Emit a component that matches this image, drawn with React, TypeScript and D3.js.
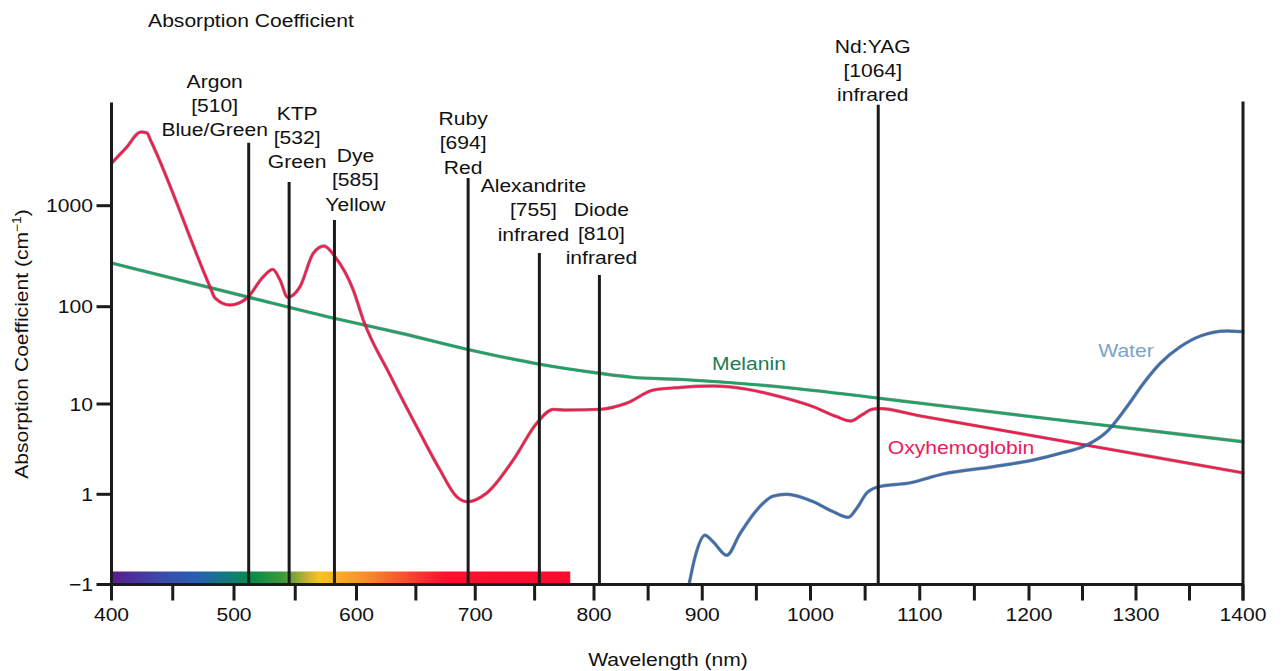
import React from 'react';
import * as d3 from 'd3';

const W = 1283;
const H = 671;

// ---------- data ----------
const xTicks = [400, 450, 500, 550, 600, 650, 700, 750, 800, 850, 900, 950, 1000, 1050, 1100, 1150, 1200, 1250, 1300, 1350, 1400];
const xTickLabels = [400, 500, 600, 700, 800, 900, 1000, 1100, 1200, 1300, 1400];
const yTickValues = [0.1, 1, 10, 100, 1000];
const yTickLabels = ['\u22121', '1', '10', '100', '1000'];

// [wavelength nm, absorption coefficient cm^-1]
const oxyhemoglobin: [number, number][] = [
  [400, 2630], [411.8, 3720], [424, 5370], [429, 5250], [431.8, 4470],
  [480.4, 158], [484.5, 122], [496.7, 104], [510.4, 121], [523.9, 198],
  [531.6, 234], [537.6, 184], [543.8, 124], [553.9, 158], [564.7, 338],
  [573.5, 399], [582.4, 313], [597.4, 146], [605.7, 73], [628.2, 19.9],
  [653.5, 4.77], [670.3, 1.86], [684.4, 0.94], [693.3, 0.827], [709.6, 1.03],
  [732, 2.4], [751.7, 6.11], [765.7, 8.73], [777, 8.57], [804.9, 8.73],
  [830.2, 10.2], [854.8, 13.9], [879.4, 14.8], [910.2, 15.3], [941, 14.2],
  [971.8, 11.9], [1002.6, 9.33], [1024, 7.23], [1036.8, 6.48], [1046.9, 7.55],
  [1056, 8.73], [1062.7, 8.92], [1100, 7.4], [1200, 4.53], [1300, 2.8], [1400, 1.73],
];

const melanin: [number, number][] = [
  [400, 271], [512, 124], [582, 76], [636.6, 53.7], [693.3, 36.5],
  [753.7, 25.7], [804.9, 20.7], [836, 18.8], [879.4, 17.9], [971.8, 15.0],
  [1062, 11.5], [1100, 10.2], [1200, 7.29], [1300, 5.29], [1400, 3.82],
];

const water: [number, number][] = [
  [887.8, 0.1], [893.3, 0.201], [902.5, 0.352], [910.2, 0.296], [922.6, 0.211],
  [934.9, 0.367], [950.3, 0.668], [965.6, 0.957], [978, 1.0], [1002.6, 0.827],
  [1020.9, 0.64], [1034.6, 0.556], [1042.3, 0.7], [1051.4, 1.03], [1062, 1.21],
  [1091.1, 1.34], [1121.6, 1.68], [1167.3, 2.02], [1204, 2.4], [1229, 2.84],
  [1254, 3.51], [1272.7, 4.93], [1291.5, 9.33], [1307, 16.3], [1322.7, 26.2],
  [1341.5, 38.8], [1360.2, 50.0], [1385.2, 56.3], [1400, 55.4],
];

// laser: name, nominal wavelength, band, drawn position (nm), line top (cm^-1)
const laserNames = ['Argon', 'KTP', 'Dye', 'Ruby', 'Alexandrite', 'Diode', 'Nd:YAG'];
const laserNm = [510, 532, 585, 694, 755, 810, 1064];
const laserBand = ['Blue/Green', 'Green', 'Yellow', 'Red', 'infrared', 'infrared', 'infrared'];
const laserDrawnAt = [512, 545, 582, 694, 754, 805, 1062];
const laserTop = [4200, 1720, 720, 1880, 340, 206, 10000];

// visible spectrum bar colour stops (nm, colour)
const spectrumNm = [400, 440, 470, 495, 515, 540, 560, 570, 610, 650, 675, 780];
const spectrumColor = ['#5a1c8e', '#3a4aa8', '#2760b0', '#137a7a', '#0c8a48', '#3d9a3a', '#c9b32e', '#f8c41e', '#f98a2a', '#fb3a30', '#fd0f2e', '#ff0a32'];

// ---------- layout (pixel offsets, not data) ----------
const laserLabelOffset: [number, number][] = [
  [-34, -13], [8, -20], [21, -16], [-5, -11], [-6, -19], [2, -17], [-5.5, -10],
];
const FONT = "'Liberation Sans', Arial, Helvetica, sans-serif";
const SX = 1.14;
const FS = 18.5;

function Txt(props: { x: number; y: number; children: React.ReactNode; anchor?: string; fill?: string; size?: number }) {
  const { x, y, children, anchor = 'middle', fill = '#111', size = FS } = props;
  return (
    <text
      transform={`translate(${x},${y}) scale(${SX},1)`}
      textAnchor={anchor as any}
      fontSize={size}
      fill={fill}
      fontFamily={FONT}
    >
      {children}
    </text>
  );
}

export default function App() {
  const x = d3.scaleLinear().domain([400, 600, 800, 1000, 1200, 1400]).range([111.5, 356.5, 594, 810.5, 1029, 1243]);
  const y = d3.scaleLog().domain([0.1, 1, 10, 100, 1000]).range([584.5, 494.3, 404, 306.7, 205.7]);

  const axisY = y(0.1);
  const axisX = x(400);
  const topY = y(10500);

  const line = d3
    .line<[number, number]>()
    .x((d) => x(d[0]))
    .y((d) => y(d[1]))
    .curve(d3.curveMonotoneX);

  const specX1 = x(spectrumNm[0]);
  const specX2 = x(spectrumNm[spectrumNm.length - 1]);

  const series = [
    { data: melanin, under: '#1c4b3a', core: '#1aa462' },
    { data: oxyhemoglobin, under: '#7a1e30', core: '#f41a4c' },
    { data: water, under: '#1f3557', core: '#3a6db0' },
  ];

  return (
    <svg width={W} height={H} style={{ position: 'absolute', left: 0, top: 0, background: '#fff' }}>
      <defs>
        <linearGradient id="spec" gradientUnits="userSpaceOnUse" x1={specX1} x2={specX2} y1={0} y2={0}>
          {spectrumNm.map((nm, i) => (
            <stop key={nm} offset={(x(nm) - specX1) / (specX2 - specX1)} stopColor={spectrumColor[i]} />
          ))}
        </linearGradient>
      </defs>
      <rect x={0} y={0} width={W} height={H} fill="#fff" />

      {/* spectrum bar */}
      <rect x={specX1} y={axisY - 13} width={specX2 - specX1} height={13} fill="url(#spec)" />

      {/* curves */}
      {series.map((s, i) => (
        <g key={i} fill="none" strokeLinejoin="round" strokeLinecap="round">
          <path d={line(s.data) || ''} stroke={s.under} strokeWidth={3.4} strokeOpacity={0.6} />
          <path d={line(s.data) || ''} stroke={s.core} strokeWidth={2.1} />
        </g>
      ))}

      {/* laser lines and labels */}
      {laserNames.map((name, i) => {
        const lx = x(laserDrawnAt[i]);
        const ly = y(laserTop[i]);
        const [dx, dy] = laserLabelOffset[i];
        const lastBase = ly + dy + 6.5;
        const lines = [name, `[${laserNm[i]}]`, laserBand[i]];
        return (
          <g key={name}>
            <line x1={lx} x2={lx} y1={ly} y2={axisY} stroke="#1b1b1b" strokeWidth={3} />
            {lines.map((t, j) => (
              <Txt key={j} x={lx + dx} y={lastBase - (2 - j) * 24.3}>
                {t}
              </Txt>
            ))}
          </g>
        );
      })}

      {/* axes */}
      <line x1={axisX} x2={axisX} y1={topY} y2={axisY + 6} stroke="#1b1b1b" strokeWidth={3} />
      <line x1={x(1400)} x2={x(1400)} y1={topY - 1} y2={axisY + 16} stroke="#1b1b1b" strokeWidth={3} />
      <line x1={axisX} x2={x(1400)} y1={axisY} y2={axisY} stroke="#1b1b1b" strokeWidth={3} />
      {xTicks.map((t) => (
        <line key={t} x1={x(t)} x2={x(t)} y1={axisY} y2={axisY + 16} stroke="#1b1b1b" strokeWidth={3} />
      ))}
      {xTickLabels.map((t) => (
        <Txt key={t} x={x(t)} y={621}>
          {t}
        </Txt>
      ))}
      {yTickValues.map((v, i) => (
        <g key={v}>
          <line x1={axisX - 15} x2={axisX} y1={y(v)} y2={y(v)} stroke="#1b1b1b" strokeWidth={3} />
          <Txt x={93} y={y(v) + 6.5} anchor="end">
            {yTickLabels[i]}
          </Txt>
        </g>
      ))}

      {/* series labels */}
      <Txt x={749} y={369.5} fill="#1f7a55">Melanin</Txt>
      <Txt x={1126} y={356.5} fill="#7ba4c7">Water</Txt>
      <Txt x={961} y={453.5} fill="#f0185a">Oxyhemoglobin</Txt>

      {/* titles */}
      <Txt x={251} y={26.5}>Absorption Coefficient</Txt>
      <Txt x={668} y={666}>Wavelength (nm)</Txt>
      <text
        transform={`translate(28,344) rotate(-90) scale(${SX},1)`}
        textAnchor="middle"
        fontSize={FS}
        fill="#111"
        fontFamily={FONT}
      >
        Absorption Coefficient (cm
        <tspan dy={-7} fontSize={12}>{'\u22121'}</tspan>
        <tspan dy={7}>)</tspan>
      </text>
    </svg>
  );
}
